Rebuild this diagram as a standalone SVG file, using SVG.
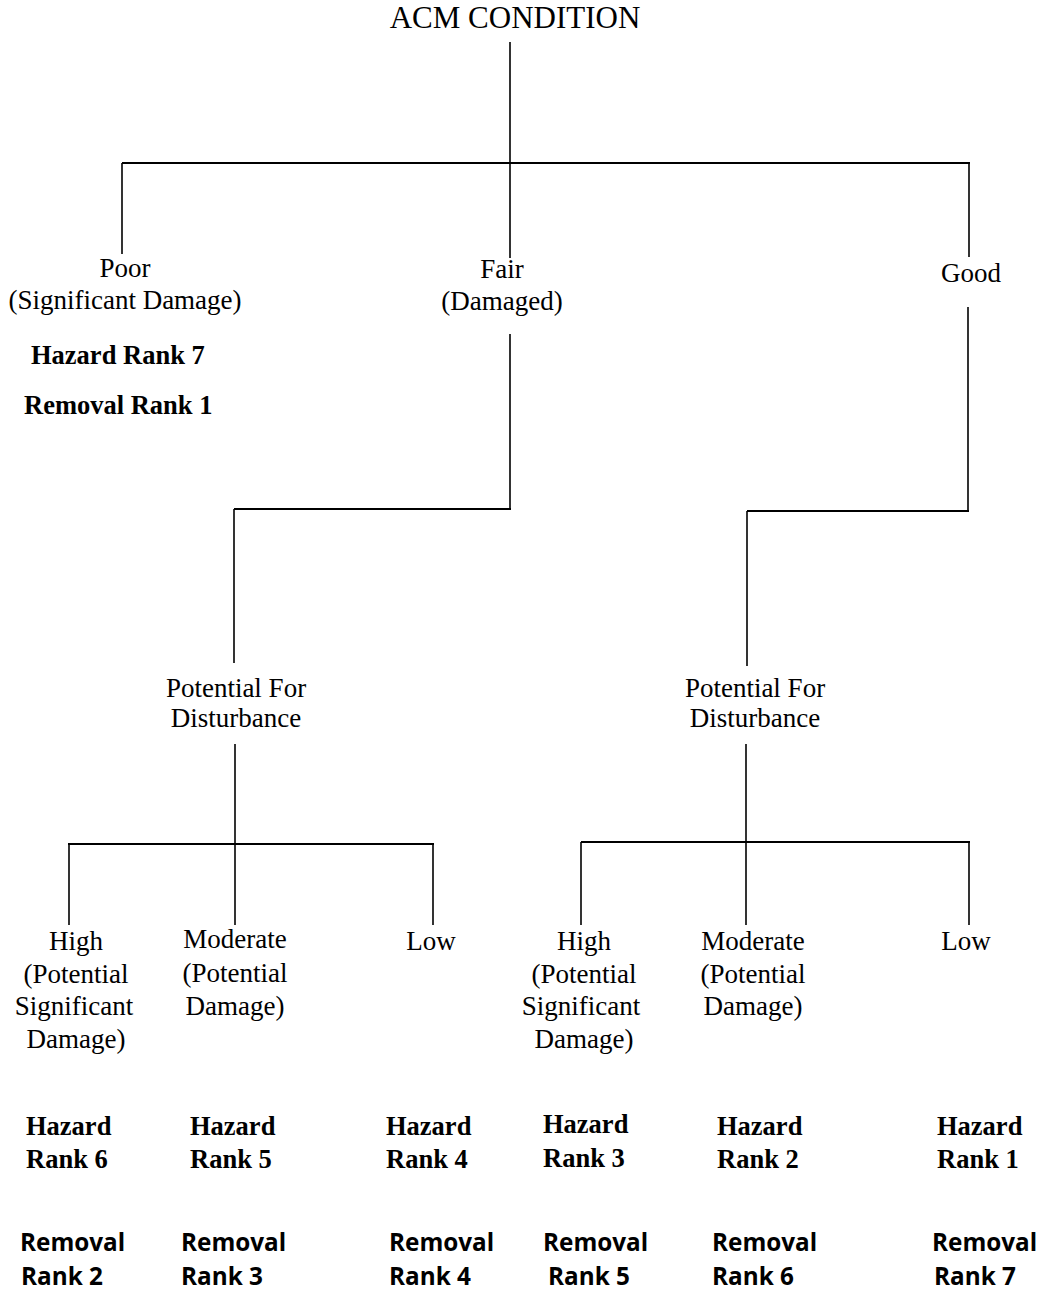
<svg xmlns="http://www.w3.org/2000/svg" width="1044" height="1294" viewBox="0 0 1044 1294">
<style>
.t{font-family:"Liberation Serif","Times New Roman",serif;font-size:27px;fill:#000;text-anchor:middle}
.title{font-size:31px}
.hb{font-family:"Liberation Serif","Times New Roman",serif;font-size:26.5px;font-weight:bold;fill:#000}
.rb{font-family:"Open Sans","Noto Sans",sans-serif;font-size:24.3px;font-weight:bold;fill:#000}
.v{stroke:#000;stroke-width:1.6;fill:none}
.h{stroke:#000;stroke-width:2.2;fill:none}
</style>
<rect width="1044" height="1294" fill="#fff"/>
<g id="connectors">
<line class="v" x1="510" y1="42" x2="510" y2="258"/>
<line class="h" x1="122" y1="163" x2="970" y2="163"/>
<line class="v" x1="122" y1="163" x2="122" y2="254"/>
<line class="v" x1="969" y1="163" x2="969" y2="257"/>
<line class="v" x1="510" y1="334" x2="510" y2="510"/>
<line class="h" x1="234" y1="509" x2="511" y2="509"/>
<line class="v" x1="234" y1="509" x2="234" y2="663"/>
<line class="v" x1="968" y1="307" x2="968" y2="511"/>
<line class="h" x1="747" y1="511" x2="969" y2="511"/>
<line class="v" x1="747" y1="511" x2="747" y2="666"/>
<line class="v" x1="235" y1="744" x2="235" y2="844"/>
<line class="h" x1="68" y1="844" x2="434" y2="844"/>
<line class="v" x1="69" y1="844" x2="69" y2="925"/>
<line class="v" x1="235" y1="844" x2="235" y2="925"/>
<line class="v" x1="433" y1="844" x2="433" y2="925"/>
<line class="v" x1="746" y1="744" x2="746" y2="842"/>
<line class="h" x1="581" y1="842" x2="970" y2="842"/>
<line class="v" x1="581" y1="842" x2="581" y2="925"/>
<line class="v" x1="746" y1="842" x2="746" y2="925"/>
<line class="v" x1="969" y1="842" x2="969" y2="925"/>
</g>
<g id="acm-condition"><text class="t title" x="515" y="28">ACM CONDITION</text></g>
<g id="poor">
<text class="t" x="125" y="277">Poor</text>
<text class="t" x="125" y="309">(Significant Damage)</text>
<text class="hb" x="31" y="364">Hazard Rank 7</text>
<text class="hb" x="24" y="414">Removal Rank 1</text>
</g>
<g id="fair">
<text class="t" x="502" y="278">Fair</text>
<text class="t" x="502" y="310">(Damaged)</text>
</g>
<g id="good"><text class="t" x="971" y="282">Good</text></g>
<g id="pfd-left">
<text class="t" x="236" y="697">Potential For</text>
<text class="t" x="236" y="727">Disturbance</text>
</g>
<g id="pfd-right">
<text class="t" x="755" y="697">Potential For</text>
<text class="t" x="755" y="727">Disturbance</text>
</g>
<g id="high-left">
<text class="t" x="76" y="950">High</text>
<text class="t" x="76" y="983">(Potential</text>
<text class="t" x="74" y="1015">Significant</text>
<text class="t" x="76" y="1048">Damage)</text>
<text class="hb" x="26" y="1135">Hazard</text>
<text class="hb" x="26" y="1168">Rank 6</text>
<text class="rb" x="20" y="1251">Removal</text>
<text class="rb" x="21" y="1285">Rank 2</text>
</g>
<g id="moderate-left">
<text class="t" x="235" y="948">Moderate</text>
<text class="t" x="235" y="982">(Potential</text>
<text class="t" x="235" y="1015">Damage)</text>
<text class="hb" x="190" y="1135">Hazard</text>
<text class="hb" x="190" y="1168">Rank 5</text>
<text class="rb" x="181" y="1251">Removal</text>
<text class="rb" x="181" y="1285">Rank 3</text>
</g>
<g id="low-left">
<text class="t" x="431" y="950">Low</text>
<text class="hb" x="386" y="1135">Hazard</text>
<text class="hb" x="386" y="1168">Rank 4</text>
<text class="rb" x="389" y="1251">Removal</text>
<text class="rb" x="389" y="1285">Rank 4</text>
</g>
<g id="high-right">
<text class="t" x="584" y="950">High</text>
<text class="t" x="584" y="983">(Potential</text>
<text class="t" x="581" y="1015">Significant</text>
<text class="t" x="584" y="1048">Damage)</text>
<text class="hb" x="543" y="1133">Hazard</text>
<text class="hb" x="543" y="1167">Rank 3</text>
<text class="rb" x="543" y="1251">Removal</text>
<text class="rb" x="548" y="1285">Rank 5</text>
</g>
<g id="moderate-right">
<text class="t" x="753" y="950">Moderate</text>
<text class="t" x="753" y="983">(Potential</text>
<text class="t" x="753" y="1015">Damage)</text>
<text class="hb" x="717" y="1135">Hazard</text>
<text class="hb" x="717" y="1168">Rank 2</text>
<text class="rb" x="712" y="1251">Removal</text>
<text class="rb" x="712" y="1285">Rank 6</text>
</g>
<g id="low-right">
<text class="t" x="966" y="950">Low</text>
<text class="hb" x="937" y="1135">Hazard</text>
<text class="hb" x="937" y="1168">Rank 1</text>
<text class="rb" x="932" y="1251">Removal</text>
<text class="rb" x="934" y="1285">Rank 7</text>
</g>
</svg>
